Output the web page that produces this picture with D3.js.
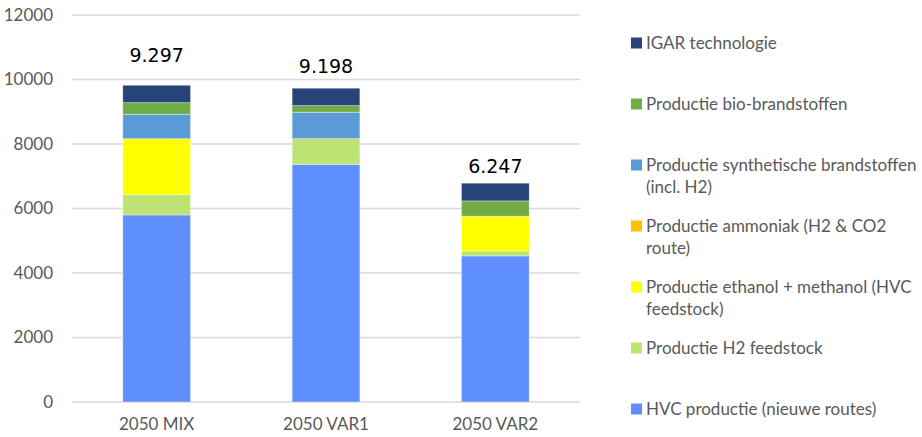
<!DOCTYPE html>
<html>
<head>
<meta charset="utf-8">
<script src="https://cdn.jsdelivr.net/npm/d3@7"></script>
<style>
  body { margin: 0; background: #fff; }
  text { font-family: Lato, "Open Sans", sans-serif; }
</style>
</head>
<body>
<script>
const categories = ["2050 MIX", "2050 VAR1", "2050 VAR2"];
const totalLabels = ["9.297", "9.198", "6.247"];
const labelAt = [10530, 10190, 7110];

// series, bottom to top
const hvc = [5800, 7370, 4530];
const h2Feed = [630, 795, 155];
const ethanol = [1735, 0, 1075];
const ammoniak = [0, 0, 0];
const synth = [757, 820, 0];
const bio = [360, 205, 475];
const igar = [540, 540, 550];

const seriesNames = [
  "HVC productie (nieuwe routes)",
  "Productie H2 feedstock",
  "Productie ethanol + methanol (HVC feedstock)",
  "Productie ammoniak (H2 & CO2 route)",
  "Productie synthetische brandstoffen (incl. H2)",
  "Productie bio-brandstoffen",
  "IGAR technologie"
];
const legendLines = [
  ["HVC productie (nieuwe routes)"],
  ["Productie H2 feedstock"],
  ["Productie ethanol + methanol (HVC", "feedstock)"],
  ["Productie ammoniak (H2 & CO2", "route)"],
  ["Productie synthetische brandstoffen", "(incl. H2)"],
  ["Productie bio-brandstoffen"],
  ["IGAR technologie"]
];
const colors = ["#5F8FFF", "#BDE373", "#FFFF00", "#FFC000", "#5B9BD5", "#70AD47", "#264478"];
const yTicks = [0, 2000, 4000, 6000, 8000, 10000, 12000];

const w = 922, h = 437;
const plotLeft = 72, plotRight = 580, plotTop = 15, plotBottom = 402;

const series = [hvc, h2Feed, ethanol, ammoniak, synth, bio, igar];
const table = categories.map((c, i) => {
  const row = { cat: c };
  seriesNames.forEach((s, k) => (row[s] = series[k][i]));
  return row;
});
const stacked = d3.stack().keys(seriesNames)(table);

const x = d3.scaleBand().domain(categories).range([plotLeft, plotRight]).paddingInner(0.6).paddingOuter(0.3);
const y = d3.scaleLinear().domain([0, 12000]).range([plotBottom, plotTop]);

const svg = d3.select("body").append("svg").attr("width", w).attr("height", h);

// gridlines
svg.append("g")
  .selectAll("line")
  .data(yTicks)
  .join("line")
  .attr("x1", plotLeft)
  .attr("x2", plotRight)
  .attr("y1", (d) => y(d))
  .attr("y2", (d) => y(d))
  .attr("stroke", "#d9d9d9")
  .attr("stroke-width", 1.3);

// y axis labels
const yAxis = d3.axisLeft(y).tickValues(yTicks).tickSize(0).tickPadding(19).tickFormat(d3.format("d"));
const gy = svg.append("g").attr("transform", `translate(${plotLeft},0)`).call(yAxis);
gy.select(".domain").remove();
gy.selectAll("text").attr("fill", "#595959").style("font-family", null).style("font-size", "17px");
gy.attr("font-family", null);

// x axis labels
const xAxis = d3.axisBottom(x).tickSize(0).tickPadding(16);
const gx = svg.append("g").attr("transform", `translate(0,${plotBottom})`).call(xAxis);
gx.select(".domain").remove();
gx.attr("font-family", null);
gx.selectAll("text").attr("fill", "#595959").style("font-size", "17px");

// bars
svg.append("g")
  .selectAll("g")
  .data(stacked)
  .join("g")
  .attr("fill", (d, i) => colors[i])
  .selectAll("rect")
  .data((d) => d)
  .join("rect")
  .attr("x", (d) => x(d.data.cat))
  .attr("width", x.bandwidth())
  .attr("y", (d) => y(d[1]))
  .attr("height", (d) => y(d[0]) - y(d[1]))
  .attr("stroke", "#ffffff")
  .attr("stroke-opacity", 0.45)
  .attr("stroke-width", 0.8);

// total labels
svg.append("g")
  .selectAll("text")
  .data(categories)
  .join("text")
  .attr("x", (d) => x(d) + x.bandwidth() / 2)
  .attr("y", (d, i) => y(labelAt[i]))
  .attr("text-anchor", "middle")
  .style("font-family", "'DejaVu Sans', sans-serif")
  .style("font-size", "19px")
  .attr("fill", "#000")
  .text((d, i) => totalLabels[i]);

// legend, top to bottom
const legendX = 631, legendTop = 43, legendStep = 61, lineH = 22.5;
const order = d3.range(seriesNames.length).reverse();
const lg = svg.append("g")
  .selectAll("g")
  .data(order)
  .join("g")
  .attr("transform", (d, j) => `translate(${legendX},${legendTop + j * legendStep})`);
lg.append("rect")
  .attr("x", 0)
  .attr("y", -5.5)
  .attr("width", 11)
  .attr("height", 11)
  .attr("fill", (d) => colors[d]);
lg.append("text")
  .attr("fill", "#595959")
  .style("font-size", "17px")
  .selectAll("tspan")
  .data((d) => legendLines[d])
  .join("tspan")
  .attr("x", 15)
  .attr("y", (d, k) => k * lineH)
  .attr("dy", "0.35em")
  .text((d) => d);
</script>
</body>
</html>
